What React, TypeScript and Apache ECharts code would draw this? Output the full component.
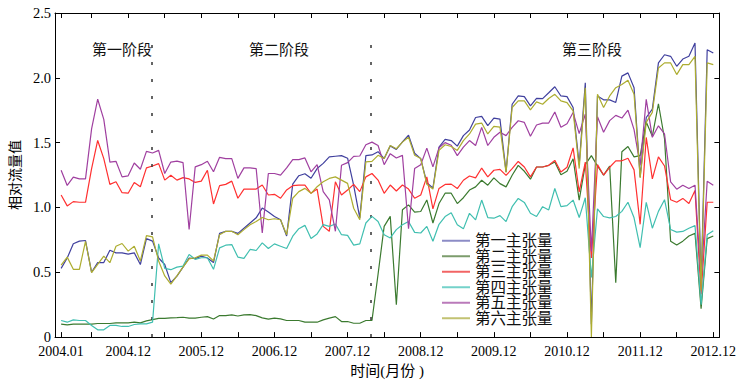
import React, { useEffect, useRef } from 'react';
import * as echarts from 'echarts';

// ---- data ----
const tickIndex = [0, 11, 23, 35, 47, 59, 71, 83, 95, 107];
const tickLabels = ['2004.01', '2004.12', '2005.12', '2006.12', '2007.12', '2008.12', '2009.12', '2010.12', '2011.12', '2012.12'];
const minorTickIndex = [5, 17, 29, 41, 53, 65, 77, 89, 101];
const allTickIndex = [0, ...minorTickIndex, ...tickIndex.slice(1)].sort((a, b) => a - b);

const seriesNames = ['第一主张量', '第二主张量', '第三主张量', '第四主张量', '第五主张量', '第六主张量'];

const s1 = [0.53, 0.61, 0.72, 0.74, 0.745, 0.50, 0.575, 0.575, 0.67, 0.65, 0.65, 0.64, 0.65, 0.56, 0.76, 0.74, 0.61, 0.56, 0.42, 0.47,
  0.54, 0.61, 0.605, 0.625, 0.61, 0.575, 0.80, 0.815, 0.815, 0.80, 0.84, 0.88, 0.92, 0.995, 0.965, 0.93, 0.905, 0.78, 1.18, 1.245,
  1.26, 1.225, 1.30, 1.34, 1.39, 1.395, 1.40, 1.38, 1.17, 0.92, 1.40, 1.405, 1.43, 1.377, 1.475, 1.448, 1.506, 1.557, 1.418, 1.377,
  1.19, 1.15, 1.466, 1.525, 1.516, 1.473, 1.554, 1.597, 1.694, 1.702, 1.631, 1.689, 1.681, 1.274, 1.796, 1.86, 1.855, 1.783, 1.842, 1.84,
  1.885, 1.931, 1.86, 1.855, 1.771, 1.33, 1.962, 0.10, 1.86, 1.83, 1.83, 1.81, 2.013, 2.038, 1.924, 1.236, 1.694, 1.758, 2.115, 2.178,
  2.166, 2.089, 2.145, 2.166, 2.268, 0.40, 2.217, 2.191];

const s2 = [0.10, 0.095, 0.10, 0.10, 0.10, 0.10, 0.105, 0.105, 0.105, 0.11, 0.11, 0.11, 0.115, 0.11, 0.125, 0.135, 0.145, 0.145, 0.148, 0.15,
  0.153, 0.146, 0.146, 0.153, 0.158, 0.14, 0.166, 0.166, 0.171, 0.163, 0.171, 0.174, 0.166, 0.148, 0.138, 0.146, 0.14, 0.128, 0.128, 0.128,
  0.115, 0.115, 0.115, 0.133, 0.146, 0.158, 0.12, 0.12, 0.107, 0.107, 0.128, 0.128, 0.485, 0.854, 0.931, 0.25, 0.982, 1.02, 0.964, 0.969,
  1.058, 0.88, 1.03, 1.11, 1.11, 1.03, 1.075, 1.134, 1.159, 1.21, 1.172, 1.228, 1.184, 1.159, 1.248, 1.325, 1.279, 1.218, 1.312, 1.312,
  1.325, 1.35, 1.253, 1.279, 1.376, 1.057, 1.33, 1.40, 1.32, 1.25, 1.32, 0.42, 1.43, 1.47, 1.39, 1.40, 1.66, 1.55, 1.80, 1.53,
  0.74, 0.71, 0.74, 0.78, 0.80, 0.22, 0.76, 0.78];

const s3 = [1.096, 1.012, 1.045, 1.04, 1.04, 1.30, 1.517, 1.377, 1.178, 1.198, 1.114, 1.11, 1.193, 1.16, 1.305, 1.32, 1.338, 1.211, 1.249, 1.211,
  1.23, 1.22, 1.193, 1.203, 1.287, 1.027, 1.168, 1.178, 1.203, 1.071, 1.142, 1.142, 1.142, 1.173, 1.096, 1.101, 1.071, 1.135, 1.168, 1.173,
  1.173, 1.109, 1.142, 0.854, 0.816, 1.198, 1.096, 1.135, 1.178, 1.122, 1.236, 1.262, 1.211, 1.109, 1.173, 1.127, 1.173, 1.142, 1.071, 1.096,
  1.236, 0.989, 1.147, 1.178, 1.18, 1.146, 1.21, 1.243, 1.228, 1.304, 1.236, 1.287, 1.294, 1.248, 1.299, 1.355, 1.312, 1.236, 1.312, 1.312,
  1.325, 1.363, 1.274, 1.31, 1.46, 1.12, 1.35, 0.61, 1.33, 1.25, 1.31, 1.36, 1.36, 1.38, 1.29, 0.87, 1.54, 1.22, 1.39, 1.32,
  1.06, 1.04, 1.07, 1.03, 1.13, 0.33, 1.04, 1.04];

const s4 = [0.128, 0.115, 0.133, 0.128, 0.128, 0.09, 0.056, 0.056, 0.09, 0.09, 0.082, 0.082, 0.097, 0.102, 0.102, 0.115, 0.719, 0.53, 0.52, 0.54,
  0.548, 0.637, 0.60, 0.612, 0.612, 0.523, 0.688, 0.709, 0.714, 0.617, 0.607, 0.676, 0.668, 0.727, 0.683, 0.719, 0.701, 0.683, 0.778, 0.836,
  0.862, 0.76, 0.796, 0.867, 0.854, 0.872, 0.79, 0.785, 0.709, 0.719, 0.88, 0.931, 0.892, 0.79, 0.765, 0.829, 0.867, 0.892, 0.808, 0.803,
  0.854, 0.739, 0.87, 0.93, 0.96, 0.866, 0.835, 0.955, 0.904, 1.057, 0.922, 0.917, 0.937, 0.891, 1.006, 1.07, 1.039, 0.955, 0.93, 1.006,
  0.981, 1.146, 1.006, 1.014, 1.057, 0.922, 1.075, 0.46, 0.99, 0.93, 0.92, 0.93, 0.97, 1.04, 0.92, 0.69, 1.04, 0.84, 0.97, 1.06,
  0.83, 0.81, 0.815, 0.84, 0.86, 0.25, 0.79, 0.82];

const s5 = [1.287, 1.17, 1.234, 1.22, 1.22, 1.606, 1.835, 1.68, 1.35, 1.356, 1.236, 1.244, 1.343, 1.295, 1.433, 1.42, 1.44, 1.262, 1.35, 1.358,
  1.346, 0.83, 1.313, 1.33, 1.356, 1.275, 1.387, 1.377, 1.377, 1.224, 1.305, 1.305, 1.30, 0.803, 1.262, 1.262, 1.249, 1.305, 1.369, 1.369,
  1.382, 1.275, 1.33, 1.122, 1.058, 0.816, 1.325, 1.346, 1.394, 1.397, 1.484, 1.504, 1.478, 1.33, 1.415, 1.382, 1.402, 0.836, 1.30, 1.33,
  1.458, 1.313, 1.46, 1.50, 1.48, 1.40, 1.465, 1.516, 1.478, 1.618, 1.478, 1.541, 1.58, 1.554, 1.618, 1.669, 1.656, 1.549, 1.636, 1.651,
  1.651, 1.737, 1.618, 1.645, 1.733, 1.57, 1.72, 0.66, 1.70, 1.58, 1.67, 1.71, 1.69, 1.75, 1.60, 1.325, 1.834, 1.541, 1.63, 1.567,
  1.197, 1.141, 1.172, 1.146, 1.172, 0.43, 1.202, 1.172];

const s6 = [0.556, 0.617, 0.523, 0.523, 0.739, 0.497, 0.561, 0.625, 0.574, 0.701, 0.722, 0.663, 0.701, 0.587, 0.783, 0.773, 0.587, 0.472, 0.408, 0.472,
  0.54, 0.604, 0.612, 0.632, 0.632, 0.587, 0.79, 0.816, 0.816, 0.79, 0.829, 0.867, 0.892, 0.923, 0.905, 0.913, 0.905, 0.79, 1.071, 1.122,
  1.147, 1.109, 1.16, 1.198, 1.224, 1.236, 1.211, 1.186, 0.994, 0.905, 1.351, 1.356, 1.402, 1.377, 1.478, 1.453, 1.504, 1.542, 1.402, 1.377,
  1.178, 1.142, 1.44, 1.484, 1.47, 1.44, 1.516, 1.567, 1.643, 1.651, 1.567, 1.625, 1.62, 1.27, 1.771, 1.822, 1.822, 1.753, 1.814, 1.796,
  1.84, 1.873, 1.822, 1.809, 1.745, 1.30, 1.924, 0.0, 1.873, 1.771, 1.86, 1.924, 1.949, 1.982, 1.873, 1.228, 1.656, 1.733, 2.076, 2.115,
  2.115, 2.025, 2.102, 2.102, 2.166, 0.36, 2.115, 2.102];

const seriesValues = [s1, s2, s3, s4, s5, s6];
const phaseBoundaries = [14.8, 50.85];
const phaseLabels = ['第一阶段', '第二阶段', '第三阶段'];

const lineColors = ['#40409e', '#3b7a2f', '#ff3030', '#40bfb0', '#a040a0', '#adad30'];
const legendColors = ['#8c8cc6', '#7c9c6c', '#f26464', '#74d2ca', '#ba7aba', '#c2c272'];
const SERIF = 'Liberation Serif, Noto Sans CJK SC, serif';

export default function App() {
  const ref = useRef<HTMLDivElement>(null);
  useEffect(() => {
    if (!ref.current) return;
    const chart = echarts.init(ref.current, null, { renderer: 'svg' });
    const labelFor = (v: number) => {
      const k = tickIndex.indexOf(Math.round(v));
      return k >= 0 ? tickLabels[k] : '';
    };
    const tickCommon = { show: true, inside: true, length: 5, lineStyle: { color: '#000', width: 1 } };
    const series: any[] = seriesValues.map((vals, si) => ({
      name: seriesNames[si],
      type: 'line',
      symbol: 'none',
      showSymbol: false,
      xAxisIndex: 0,
      yAxisIndex: 0,
      data: vals.map((v, i) => [i, v]),
      lineStyle: { color: lineColors[si], width: 1.2 },
      itemStyle: { color: lineColors[si] },
      z: 2 + si,
    }));
    series[0].markLine = {
      symbol: 'none',
      silent: true,
      animation: false,
      label: { show: false },
      lineStyle: { color: '#333', width: 1.5, type: [3, 14] },
      data: phaseBoundaries.map((b) => [{ coord: [b, 0] }, { coord: [b, 2.35] }]),
    };
    chart.setOption({
      animation: false,
      backgroundColor: '#fff',
      grid: { left: 51, right: 18, top: 13, bottom: 43, containLabel: false },
      xAxis: [
        {
          type: 'value', position: 'bottom', min: -1, max: 108,
          axisLine: { show: true, onZero: false, lineStyle: { color: '#000', width: 1 } },
          axisTick: { ...tickCommon, customValues: allTickIndex },
          axisLabel: {
            show: true, customValues: tickIndex, formatter: labelFor, margin: 8,
            color: '#000', fontFamily: SERIF, fontSize: 14, lineHeight: 12,
          },
          splitLine: { show: false },
          name: '时间(月份 )', nameLocation: 'middle', nameGap: 22,
          nameTextStyle: { color: '#000', fontFamily: SERIF, fontSize: 15 },
        },
        {
          type: 'value', position: 'top', min: -1, max: 108,
          axisLine: { show: true, onZero: false, lineStyle: { color: '#000', width: 1 } },
          axisTick: { ...tickCommon, customValues: allTickIndex },
          axisLabel: { show: false },
          splitLine: { show: false },
        },
      ],
      yAxis: [
        {
          type: 'value', position: 'left', min: 0, max: 2.5, interval: 0.5,
          axisLine: { show: true, onZero: false, lineStyle: { color: '#000', width: 1 } },
          axisTick: tickCommon,
          axisLabel: {
            margin: 4, color: '#000', fontFamily: SERIF, fontSize: 14.5, lineHeight: 10,
            formatter: (v: number) => (v === 0 ? '0' : v.toFixed(1)),
          },
          splitLine: { show: false },
          name: '相对流量值', nameLocation: 'middle', nameGap: 33, nameRotate: 90,
          nameTextStyle: { color: '#000', fontFamily: SERIF, fontSize: 14 },
        },
        {
          type: 'value', position: 'right', min: 0, max: 2.5, interval: 0.5,
          axisLine: { show: true, onZero: false, lineStyle: { color: '#000', width: 1 } },
          axisTick: tickCommon,
          axisLabel: { show: false },
          splitLine: { show: false },
        },
      ],
      legend: {
        orient: 'vertical',
        left: 442,
        top: 233,
        padding: 0,
        itemGap: 0,
        itemWidth: 28,
        itemHeight: 2,
        textStyle: { color: '#111', fontFamily: SERIF, fontSize: 15.5, lineHeight: 14.6 },
        data: seriesNames.map((n, i) => ({
          name: n,
          icon: 'rect',
          itemStyle: { color: legendColors[i] },
        })),
        selectedMode: false,
      },
      graphic: phaseLabels.map((t, i) => ({
        type: 'text',
        x: [122, 279, 592][i],
        y: 50,
        style: {
          text: t, fontFamily: SERIF, fontSize: 15, fill: '#111',
          textAlign: 'center', textVerticalAlign: 'middle',
        },
      })),
      series,
    });
    return () => chart.dispose();
  }, []);
  return <div ref={ref} style={{ position: 'fixed', left: 0, top: 0, width: 739, height: 383 }} />;
}
